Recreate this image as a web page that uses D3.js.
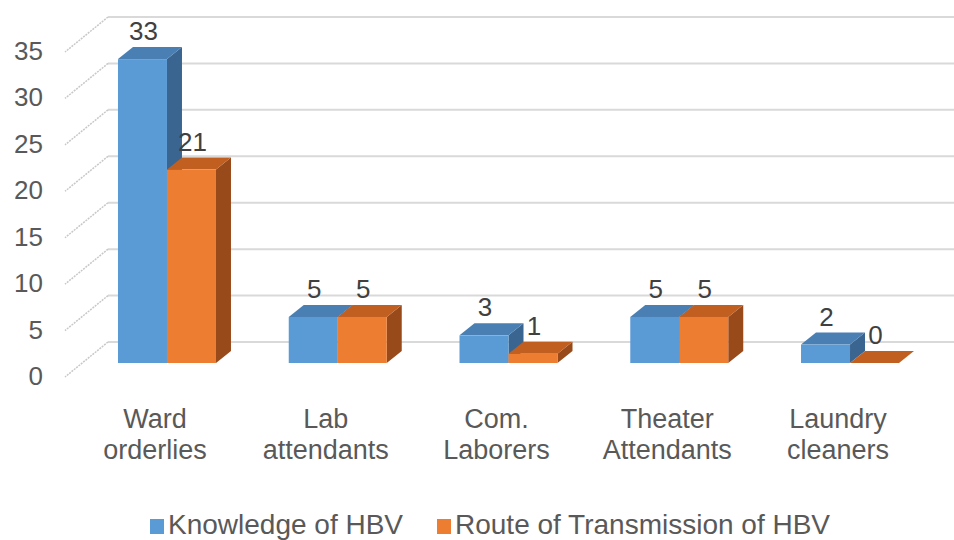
<!DOCTYPE html>
<html>
<head>
<meta charset="utf-8">
<script src="https://cdn.jsdelivr.net/npm/d3@7"></script>
<style>
  body { margin: 0; background: #fff; }
  svg { display: block; font-family: "Liberation Sans", Arial, sans-serif; }
</style>
</head>
<body>
<svg id="chart" width="954" height="540"></svg>
<script>
// dados do grafico
var categorias = ["Ward orderlies", "Lab attendants", "Com. Laborers", "Theater Attendants", "Laundry cleaners"];
var knowledge = [33, 5, 3, 5, 2];
var route = [21, 5, 1, 5, 0];
var series = ["Knowledge of HBV", "Route of Transmission of HBV"];
var yTicks = [0, 5, 10, 15, 20, 25, 30, 35];

var cores = {
  "Knowledge of HBV": { front: "#5b9bd5", top: "#4a7fb3", side: "#3a6590" },
  "Route of Transmission of HBV": { front: "#ed7d31", top: "#c15f20", side: "#984a1b" }
};

var svg = d3.select("#chart");
var corTexto = "#595959";

// parede do fundo e plano da frente
var yBack = d3.scaleLinear().domain([0, 35]).range([342, 17]);
var depthX = -43, depthY = 35;   // deslocamento parede -> frente
var paredeX = 108;

// barras
var yBar = d3.scaleLinear().domain([0, 35]).range([363, 40.7]);
var x0 = d3.scaleBand().domain(categorias).range([81.6, 935.4]);
var bw = 49;
var x1 = d3.scaleBand().domain(series).range([0, bw * 2]);
var dx = 15, dy = -12;

// linhas de grade
svg.append("g").selectAll("line.grid")
  .data(yTicks).enter().append("line")
  .attr("x1", paredeX).attr("x2", 954)
  .attr("y1", function(d) { return yBack(d); })
  .attr("y2", function(d) { return yBack(d); })
  .style("stroke", "#d9d9d9").style("stroke-width", 2);

// diagonais (lado da parede)
svg.append("g").selectAll("line.diag")
  .data(yTicks).enter().append("line")
  .attr("x1", paredeX).attr("x2", paredeX + depthX)
  .attr("y1", function(d) { return yBack(d); })
  .attr("y2", function(d) { return yBack(d) + depthY; })
  .style("stroke", "#c8c8c8").style("stroke-width", 1.5)
  .style("stroke-dasharray", "2,1");

// rotulos eixo y
svg.append("g").selectAll("text")
  .data(yTicks).enter().append("text")
  .attr("x", 43)
  .attr("y", function(d) { return yBack(d) + depthY + 8; })
  .attr("text-anchor", "end")
  .style("font-size", "26px").style("fill", corTexto)
  .text(function(d) { return d; });

function desenhaBarra(g, xl, v, c) {
  var y0 = yBar(0), yt = yBar(v);
  g.append("polygon")
    .attr("points", [[xl + bw, yt], [xl + bw + dx, yt + dy], [xl + bw + dx, y0 + dy], [xl + bw, y0]].join(" "))
    .style("fill", c.side);
  g.append("polygon")
    .attr("points", [[xl, yt], [xl + bw, yt], [xl + bw + dx, yt + dy], [xl + dx, yt + dy]].join(" "))
    .style("fill", c.top);
  if (v > 0) {
    g.append("rect")
      .attr("x", xl).attr("y", yt)
      .attr("width", bw).attr("height", y0 - yt)
      .style("fill", c.front);
  }
}

var barras = svg.append("g");
categorias.forEach(function(cat, i) {
  var valores = [knowledge[i], route[i]];
  var centro = x0(cat) + x0.bandwidth() / 2;
  series.forEach(function(s, j) {
    var xl = centro - bw + x1(s);
    desenhaBarra(barras, xl, valores[j], cores[s]);
    barras.append("text")
      .attr("x", xl + bw / 2 + 1)
      .attr("y", yBar(valores[j]) + dy - 7)
      .attr("text-anchor", "middle")
      .style("font-size", "26px").style("fill", "#404040")
      .text(valores[j]);
  });
});

// rotulos categorias
var rotulos = svg.append("g");
categorias.forEach(function(cat) {
  var centro = x0(cat) + x0.bandwidth() / 2 - 12;
  var partes = cat.split(" ");
  var t = rotulos.append("text")
    .attr("text-anchor", "middle")
    .style("font-size", "27px").style("fill", corTexto);
  partes.forEach(function(p, k) {
    t.append("tspan").attr("x", centro).attr("y", 428 + k * 31).text(p);
  });
});

// legenda
var legX = [150, 437];
var leg = svg.append("g");
series.forEach(function(s, j) {
  leg.append("rect")
    .attr("x", legX[j]).attr("y", 519)
    .attr("width", 14).attr("height", 15)
    .style("fill", cores[s].front);
  leg.append("text")
    .attr("x", legX[j] + 18).attr("y", 534)
    .style("font-size", "28px").style("fill", corTexto)
    .text(s);
});
</script>
</body>
</html>
